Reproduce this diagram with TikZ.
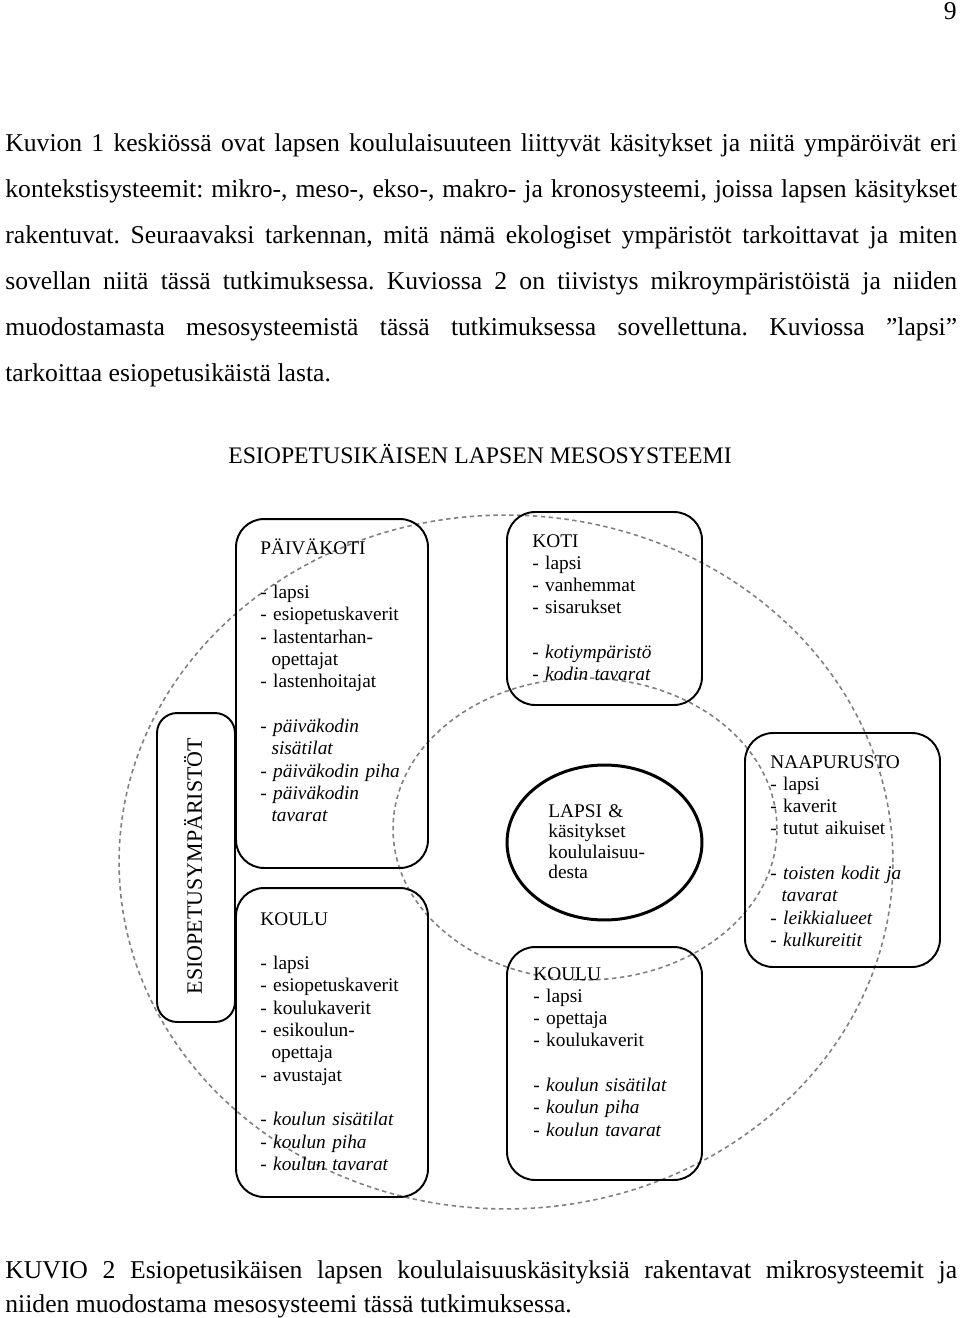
\documentclass[tikz,border=0pt]{standalone}
\usepackage{fontspec}
\setmainfont{Liberation Serif}
\usetikzlibrary{shapes.geometric}
\newcommand{\ind}{\hspace*{0.58em}}

\begin{document}
\begin{tikzpicture}[x=0.02cm,y=-0.02cm,
    bodytext/.style={inner sep=0pt,text width=19.04cm,align=justify,anchor=base west,
      font=\fontsize{14.6}{26.1}\selectfont\frenchspacing},
    microbox/.style={draw,line width=1.1pt,rounded corners=0.56cm,inner sep=0pt},
    boxtext/.style={inner sep=0pt,text width=3.6cm,align=left,anchor=base west,
      font=\fontsize{11}{12.7}\selectfont},
    ring/.style={draw=gray,line width=0.9pt,dash pattern=on 2.5pt off 2pt}]
  \useasboundingbox (0,0) rectangle (960,1318);

  \node[inner sep=0pt,anchor=base east,font=\fontsize{14.6}{17}\selectfont] (page) at (957,20) {9};
  \node[bodytext] (intro) at (5,152) {Kuvion 1 keskiössä ovat lapsen koululaisuuteen liittyvät käsitykset ja niitä ympäröivät eri\linebreak
    kontekstisysteemit: mikro-, meso-, ekso-, makro- ja kronosysteemi, joissa lapsen käsitykset\linebreak
    rakentuvat. Seuraavaksi tarkennan, mitä nämä ekologiset ympäristöt tarkoittavat ja miten\linebreak
    sovellan niitä tässä tutkimuksessa. Kuviossa 2 on tiivistys mikroympäristöistä ja niiden\linebreak
    muodostamasta mesosysteemistä tässä tutkimuksessa sovellettuna. Kuviossa ”lapsi”\linebreak
    tarkoittaa esiopetusikäistä lasta.};
  \node[inner sep=0pt,anchor=base,font=\fontsize{13.5}{16}\selectfont] (title) at (480,463) {ESIOPETUSIKÄISEN LAPSEN MESOSYSTEEMI};

  \draw[ring] (506,862) ellipse [x radius=7.74cm,y radius=6.94cm];
  \draw[ring] (585,829) ellipse [x radius=3.84cm,y radius=3.02cm];

  \node[microbox,fill=white,minimum width=1.56cm,minimum height=6.18cm,rounded corners=0.4cm] (ymparisto) at (196,867.5) {};
  \node[rotate=90,inner sep=0pt,font=\fontsize{12.5}{15}\selectfont] (tymparisto) at (193,866) {ESIOPETUSYMPÄRISTÖT};

  \node[microbox,minimum width=3.84cm,minimum height=6.98cm] (paivakoti) at (332,693.5) {};
  \node[boxtext] (tpaivakoti) at (260,554) {PÄIVÄKOTI\\ ~\\- lapsi\\- esiopetuskaverit\\- lastentarhan-\\\ind opettajat\\- lastenhoitajat\\ ~\\
    \textit{- päiväkodin}\\\ind\textit{sisätilat}\\\textit{- päiväkodin piha}\\\textit{- päiväkodin}\\\ind\textit{tavarat}};

  \node[microbox,minimum width=3.84cm,minimum height=6.18cm] (koulu) at (332,1042.5) {};
  \node[boxtext] (tkoulu) at (260,925) {KOULU\\ ~\\- lapsi\\- esiopetuskaverit\\- koulukaverit\\- esikoulun-\\\ind opettaja\\- avustajat\\ ~\\
    \textit{- koulun sisätilat}\\\textit{- koulun piha}\\\textit{- koulun tavarat}};

  \node[microbox,minimum width=3.9cm,minimum height=3.86cm] (koti) at (604.5,608.5) {};
  \node[boxtext] (tkoti) at (532,547) {KOTI\\- lapsi\\- vanhemmat\\- sisarukset\\ ~\\\textit{- kotiympäristö}\\\textit{- kodin tavarat}};

  \node[draw,ellipse,line width=1.7pt,minimum width=3.9cm,minimum height=3.1cm,inner sep=0pt] (lapsi) at (604.5,842.5) {};
  \node[boxtext,font=\fontsize{11}{11.7}\selectfont] (tlapsi) at (548,817) {LAPSI \&\\käsitykset\\koululaisuu-\\desta};

  \node[microbox,minimum width=3.9cm,minimum height=4.68cm] (naapurusto) at (842.5,850) {};
  \node[boxtext] (tnaapurusto) at (770,768) {NAAPURUSTO\\- lapsi\\- kaverit\\- tutut aikuiset\\ ~\\
    \textit{- toisten kodit ja}\\\ind\textit{tavarat}\\\textit{- leikkialueet}\\\textit{- kulkureitit}};

  \node[microbox,minimum width=3.9cm,minimum height=4.66cm] (koulu2) at (604.5,1063.5) {};
  \node[boxtext] (tkoulu2) at (533,980) {KOULU\\- lapsi\\- opettaja\\- koulukaverit\\ ~\\
    \textit{- koulun sisätilat}\\\textit{- koulun piha}\\\textit{- koulun tavarat}};

  \node[bodytext,font=\fontsize{14.6}{19.8}\selectfont\frenchspacing] (caption) at (5,1278) {KUVIO 2 Esiopetusikäisen lapsen koululaisuuskäsityksiä rakentavat mikrosysteemit ja\linebreak
    niiden muodostama mesosysteemi tässä tutkimuksessa.};
\end{tikzpicture}
\end{document}
